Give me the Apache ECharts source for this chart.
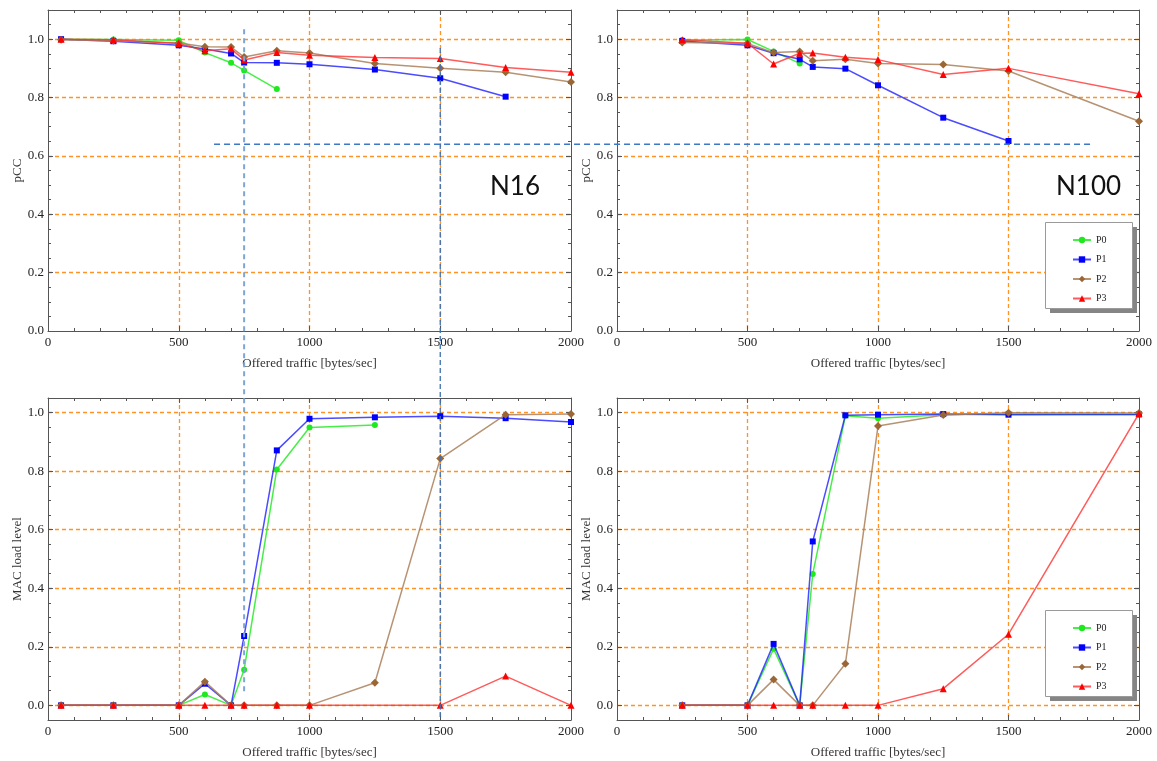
<!DOCTYPE html>
<html>
<head>
<meta charset="utf-8">
<script src="https://cdn.jsdelivr.net/npm/echarts@6/dist/echarts.min.js"></script>
<style>
  html, body { margin: 0; padding: 0; background: #fff; }
  #chart { width: 1157px; height: 761px; }
</style>
</head>
<body>
<div id="chart"></div>
<script>
// Offered traffic levels (bytes/sec) simulated for each network size
const trafficN16 = [50, 250, 500, 600, 700, 750, 875, 1000, 1250, 1500, 1750, 2000];
const trafficN100 = [250, 500, 600, 700, 750, 875, 1000, 1250, 1500, 2000];

// Tick labels
const xTicks = [0, 500, 1000, 1500, 2000];
const yTicks = [0, 0.2, 0.4, 0.6, 0.8, 1.0];

// N16 - pCC per priority class (aligned with trafficN16)
const n16PccP0 = [1.000, 0.999, 0.996, 0.954, 0.919, 0.893, 0.829];
const n16PccP1 = [1.000, 0.993, 0.979, 0.966, 0.951, 0.920, 0.919, 0.914, 0.896, 0.866, 0.803];
const n16PccP2 = [0.998, 0.995, 0.987, 0.974, 0.973, 0.939, 0.960, 0.953, 0.917, 0.900, 0.887, 0.853];
const n16PccP3 = [1.000, 0.998, 0.985, 0.960, 0.967, 0.929, 0.954, 0.945, 0.937, 0.934, 0.903, 0.887];

// N100 - pCC per priority class (aligned with trafficN100)
const n100PccP0 = [0.997, 0.999, 0.958, 0.917];
const n100PccP1 = [0.994, 0.979, 0.952, 0.931, 0.905, 0.899, 0.842, 0.731, 0.651];
const n100PccP2 = [0.989, 0.985, 0.954, 0.958, 0.926, 0.931, 0.917, 0.913, 0.891, 0.719];
const n100PccP3 = [0.998, 0.986, 0.915, 0.952, 0.953, 0.938, 0.930, 0.879, 0.900, 0.813];

// N16 - MAC load level per priority class (aligned with trafficN16, null = no sample)
const n16MacP0 = [0, 0, 0, 0.037, 0, 0.122, 0.806, 0.949, 0.958];
const n16MacP1 = [0, 0, 0, 0.074, 0, 0.237, 0.871, 0.979, 0.984, 0.988, 0.981, 0.968];
const n16MacP2 = [0, 0, 0, 0.081, 0, 0, 0, 0, 0.077, 0.843, 0.993, 0.995];
const n16MacP3 = [0, 0, 0, 0, 0, 0, 0, 0, null, 0, 0.100, 0];

// N100 - MAC load level per priority class (aligned with trafficN100)
const n100MacP0 = [0, 0, 0.193, 0, 0.449, 0.989, 0.981, 0.993, 0.995, 0.994];
const n100MacP1 = [0, 0, 0.210, 0, 0.560, 0.991, 0.993, 0.995, 0.993, 0.994];
const n100MacP2 = [0, 0, 0.088, 0, 0, 0.142, 0.954, 0.992, 1.000, 0.999];
const n100MacP3 = [0, 0, 0, 0, 0, 0, 0, 0.057, 0.243, 0.997];

const classNames = ['P0', 'P1', 'P2', 'P3'];

// Visual style of each priority class
const classStyle = {
  P0: { symbol: 'circle',   size: 6, marker: '#1ee81e', line: 'rgba(40,235,40,0.85)' },
  P1: { symbol: 'rect',     size: 6, marker: '#0000ff', line: 'rgba(30,30,255,0.8)' },
  P2: { symbol: 'diamond',  size: 8, marker: '#9b6636', line: 'rgba(170,128,90,0.85)' },
  P3: { symbol: 'triangle', size: 7, marker: '#ff0000', line: 'rgba(255,50,50,0.8)' }
};

const frameColor = '#555';
const gridColor = '#ff9326';
const serif = '"Liberation Serif", "DejaVu Serif", serif';

const panels = [
  { xs: trafficN16,  ys: [n16PccP0, n16PccP1, n16PccP2, n16PccP3], yName: 'pCC', mac: false },
  { xs: trafficN100, ys: [n100PccP0, n100PccP1, n100PccP2, n100PccP3], yName: 'pCC', mac: false },
  { xs: trafficN16,  ys: [n16MacP0, n16MacP1, n16MacP2, n16MacP3], yName: 'MAC load level', mac: true },
  { xs: trafficN100, ys: [n100MacP0, n100MacP1, n100MacP2, n100MacP3], yName: 'MAC load level', mac: true }
];

const grids = [
  { left: 48,  top: 10,  width: 523, height: 321 },
  { left: 617, top: 10,  width: 522, height: 321 },
  { left: 48,  top: 398, width: 523, height: 322 },
  { left: 617, top: 398, width: 522, height: 322 }
];

const tickLine = { color: frameColor, width: 1 };
const gridLine = { color: gridColor, type: [4, 3], width: 1.3 };

function frameAxisBase(gridIndex) {
  return {
    type: 'value',
    gridIndex,
    axisLine: { show: true, onZero: false, lineStyle: tickLine },
    axisTick: { show: true, inside: true, length: 5, lineStyle: tickLine },
    minorTick: { show: true, length: 3, lineStyle: tickLine },
    silent: true
  };
}

function yRangeOf(p) {
  return p.mac ? { min: -0.05, max: 1.05 } : { min: 0, max: 1.1, interval: 0.2 };
}

const xAxes = [];
const yAxes = [];
panels.forEach((p, i) => {
  // bottom x axis with labels and title
  xAxes.push(Object.assign(frameAxisBase(i), {
    position: 'bottom', min: 0, max: 2000, interval: 500,
    axisTick: { show: true, inside: true, length: 5, lineStyle: tickLine, customValues: xTicks },
    minorTick: { show: true, splitNumber: 5, length: 3, lineStyle: tickLine },
    axisLabel: { customValues: xTicks, margin: 5, fontFamily: serif, fontSize: 13, color: '#222',
                 formatter: v => String(v) },
    splitLine: { show: true, showMinLine: false, showMaxLine: false, lineStyle: gridLine },
    name: 'Offered traffic [bytes/sec]', nameLocation: 'middle', nameGap: 26,
    nameTextStyle: { fontFamily: serif, fontSize: 13, color: '#333' }
  }));
  // left y axis with labels and title
  yAxes.push(Object.assign(frameAxisBase(i), yRangeOf(p), {
    position: 'left',
    axisTick: { show: true, inside: true, length: 5, lineStyle: tickLine, customValues: yTicks },
    minorTick: { show: true, splitNumber: 4, length: 3, lineStyle: tickLine },
    axisLabel: { customValues: yTicks, margin: 4, fontFamily: serif, fontSize: 13, color: '#222',
                 formatter: v => v.toFixed(1) },
    splitLine: { show: true, showMinLine: p.mac, showMaxLine: true, lineStyle: gridLine },
    name: p.yName, nameLocation: 'middle', nameGap: 24,
    nameTextStyle: { fontFamily: serif, fontSize: 13, color: '#333' }
  }));
});
// top and right frame edges carrying ticks only
panels.forEach((p, i) => {
  xAxes.push(Object.assign(frameAxisBase(i), {
    position: 'top', min: 0, max: 2000, interval: 500,
    minorTick: { show: true, splitNumber: 5, length: 3, lineStyle: tickLine },
    axisLabel: { show: false }, splitLine: { show: false }
  }));
  yAxes.push(Object.assign(frameAxisBase(i), yRangeOf(p), {
    position: 'right',
    axisTick: { show: true, inside: true, length: 5, lineStyle: tickLine, customValues: yTicks },
    minorTick: { show: true, splitNumber: 4, length: 3, lineStyle: tickLine },
    axisLabel: { show: false }, splitLine: { show: false }
  }));
});

const series = [];
panels.forEach((p, i) => {
  classNames.forEach((name, k) => {
    const st = classStyle[name];
    const pts = [];
    p.ys[k].forEach((v, j) => { if (v !== null && v !== undefined) pts.push([p.xs[j], v]); });
    series.push({
      type: 'line', name, xAxisIndex: i, yAxisIndex: i,
      data: pts,
      symbol: st.symbol, symbolSize: st.size,
      itemStyle: { color: st.marker },
      lineStyle: { color: st.line, width: 1.5 },
      emphasis: { disabled: true },
      z: 3 + k
    });
  });
});

// Legend boxes (with a solid drop shadow) in the two right-hand panels
const legendBoxes = [
  { left: 1045, top: 222 },
  { left: 1045, top: 610 }
];
const legendBoxW = 87, legendBoxH = 86, legendShadow = 5;

const legendBase = {
  orient: 'vertical', left: 1045, z: 12,
  itemWidth: 18, itemHeight: 8, itemGap: 9.5,
  padding: [13, 26, 12, 27],
  textStyle: { fontFamily: serif, fontSize: 10, color: '#222' },
  selectedMode: false,
  data: classNames
};

const boxGraphics = [];
legendBoxes.forEach(b => {
  boxGraphics.push({
    type: 'rect', z: 10, silent: true,
    shape: { x: b.left + legendShadow, y: b.top + legendShadow, width: legendBoxW, height: legendBoxH },
    style: { fill: '#858585' }
  });
  boxGraphics.push({
    type: 'rect', z: 11, silent: true,
    shape: { x: b.left + 0.5, y: b.top + 0.5, width: legendBoxW, height: legendBoxH },
    style: { fill: '#fff', stroke: '#9a9a9a', lineWidth: 1 }
  });
});

const chart = echarts.init(document.getElementById('chart'), null, { renderer: 'canvas' });
chart.setOption({
  animation: false,
  backgroundColor: '#fff',
  grid: grids,
  xAxis: xAxes,
  yAxis: yAxes,
  series,
  legend: legendBoxes.map(b => Object.assign({}, legendBase, { left: b.left, top: b.top })),
  graphic: boxGraphics.concat([
    { type: 'text', left: 490, top: 174, z: 20,
      style: { text: 'N16', font: '26px Lato, "Open Sans", sans-serif', fill: '#111' } },
    { type: 'text', left: 1056, top: 174, z: 20,
      style: { text: 'N100', font: '26px Lato, "Open Sans", sans-serif', fill: '#111' } }
  ])
});

// Guide lines drawn across panels: [panel, traffic, value] at each end
const guideLines = [
  { from: [0, 750, 1.034],  to: [2, 750, 0.035],  color: '#7ea6d4', width: 2,   dash: [5, 4] },
  { from: [0, 1500, 0.97],  to: [2, 1500, -0.05], color: '#3f6fae', width: 1.3, dash: [5, 3] },
  { from: [0, 635, 0.64],   to: [1, 1815, 0.64],  color: '#3c78c6', width: 1.3, dash: [6, 4] }
];

function toPx(ref) {
  return chart.convertToPixel({ xAxisIndex: ref[0], yAxisIndex: ref[0] }, [ref[1], ref[2]]);
}

chart.setOption({
  graphic: boxGraphics.concat([
    { type: 'text', left: 490, top: 174, z: 20,
      style: { text: 'N16', font: '26px Lato, "Open Sans", sans-serif', fill: '#111' } },
    { type: 'text', left: 1056, top: 174, z: 20,
      style: { text: 'N100', font: '26px Lato, "Open Sans", sans-serif', fill: '#111' } }
  ]).concat(guideLines.map(g => {
    const a = toPx(g.from), b = toPx(g.to);
    return {
      type: 'line', z: 15, silent: true,
      shape: { x1: a[0], y1: a[1], x2: b[0], y2: b[1] },
      style: { stroke: g.color, lineWidth: g.width, lineDash: g.dash }
    };
  }))
}, { replaceMerge: ['graphic'] });
</script>
</body>
</html>
